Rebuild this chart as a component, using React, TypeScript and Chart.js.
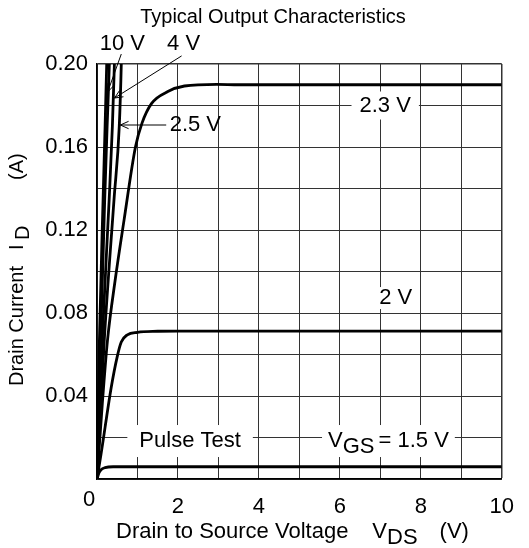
import React, { useEffect, useRef } from 'react';
import { Chart, registerables } from 'chart.js';

Chart.register(...registerables);

// ---------- data ----------
const xTickValues = [0, 2, 4, 6, 8, 10];
const yTickValues = [0.04, 0.08, 0.12, 0.16, 0.2];

const vds10V = [0, 0.06, 0.15, 0.2, 0.24, 0.27];
const id10V = [0, 0.067, 0.1345, 0.17, 0.2, 0.22];

const vdsHigh = [0, 0.09, 0.19, 0.25, 0.305, 0.33];
const idHigh = [0, 0.067, 0.1345, 0.17, 0.2, 0.22];

const vds4V = [0, 0.13, 0.3, 0.38, 0.43, 0.46];
const id4V = [0, 0.067, 0.1345, 0.17, 0.2, 0.22];

const vds25V = [0, 0.18, 0.42, 0.55, 0.6, 0.62];
const id25V = [0, 0.067, 0.1345, 0.17, 0.2, 0.22];

const vds23V = [0, 0.13, 0.26, 0.45, 0.67, 0.95, 1.11, 1.35, 1.75, 2.16, 2.96, 3.5, 10];
const id23V = [0, 0.036, 0.067, 0.096, 0.125, 0.16, 0.1714, 0.181, 0.1867, 0.1894, 0.1902, 0.19, 0.19];

const vds2V = [0, 0.1, 0.2, 0.35, 0.5, 0.6, 0.75, 1.0, 1.5, 2, 10];
const id2V = [0, 0.012, 0.025, 0.044, 0.059, 0.066, 0.0695, 0.0707, 0.0712, 0.0713, 0.0713];

const vds15V = [0, 0.05, 0.1, 0.2, 0.4, 10];
const id15V = [0, 0.003, 0.0045, 0.0055, 0.0059, 0.0059];

const titleText = 'Typical Output Characteristics';
const xTitleMain = 'Drain to Source Voltage';
const yTitleMain = 'Drain Current';
const label10V = '10 V';
const label4V = '4 V';
const label25V = '2.5 V';
const label23V = '2.3 V';
const label2V = '2 V';
const labelPulse = 'Pulse Test';
const labelVgs = '= 1.5 V';

// ---------- helpers ----------
const FAMILY = "'Liberation Sans', Arial, Helvetica, sans-serif";
const FS = 22;
const FONT = `${FS}px ${FAMILY}`;
const TITLE_FONT = `20px ${FAMILY}`;
const YTITLE_FONT = `20px ${FAMILY}`;
const SUB = 6;

type Part = { t: string; sub?: boolean; gap?: number };

function partsWidth(ctx: CanvasRenderingContext2D, parts: Part[]) {
  let w = 0;
  for (const p of parts) {
    w += p.gap ?? 0;
    if (p.t) w += ctx.measureText(p.t).width;
  }
  return w;
}

function drawParts(ctx: CanvasRenderingContext2D, x: number, y: number, parts: Part[]) {
  let cx = x;
  for (const p of parts) {
    cx += p.gap ?? 0;
    if (p.t) {
      ctx.fillText(p.t, cx, y + (p.sub ? SUB : 0));
      cx += ctx.measureText(p.t).width;
    }
  }
}

function arrow(ctx: CanvasRenderingContext2D, x1: number, y1: number, x2: number, y2: number) {
  ctx.beginPath();
  ctx.moveTo(x1, y1);
  ctx.lineTo(x2, y2);
  const a = Math.atan2(y1 - y2, x1 - x2);
  const L = 9;
  const s = 0.42;
  ctx.moveTo(x2 + L * Math.cos(a + s), y2 + L * Math.sin(a + s));
  ctx.lineTo(x2, y2);
  ctx.lineTo(x2 + L * Math.cos(a - s), y2 + L * Math.sin(a - s));
  ctx.stroke();
}

const boxedLabels: { parts: Part[]; x: number; y: number; padX: number; h: number }[] = [
  { parts: [{ t: label23V }], x: 7.12, y: 0.18, padX: 8, h: 28 },
  { parts: [{ t: label2V }], x: 7.38, y: 0.0872, padX: 3, h: 22 },
  { parts: [{ t: labelPulse }], x: 2.3, y: 0.0183, padX: 12, h: 32 },
  { parts: [{ t: 'V' }, { t: 'GS', sub: true }, { t: labelVgs, gap: 4 }], x: 7.2, y: 0.0183, padX: 6, h: 32 },
];

const overlay = {
  id: 'overlay',
  beforeDatasetsDraw(chart: any) {
    const ctx: CanvasRenderingContext2D = chart.ctx;
    const xs = chart.scales.x;
    const ys = chart.scales.y;
    ctx.save();
    ctx.font = FONT;
    ctx.fillStyle = '#ffffff';
    for (const b of boxedLabels) {
      const w = partsWidth(ctx, b.parts);
      const cx = xs.getPixelForValue(b.x);
      const cy = ys.getPixelForValue(b.y);
      ctx.fillRect(cx - w / 2 - b.padX, cy - b.h / 2, w + 2 * b.padX, b.h);
    }
    ctx.restore();
  },
  afterDraw(chart: any) {
    const ctx: CanvasRenderingContext2D = chart.ctx;
    const xs = chart.scales.x;
    const ys = chart.scales.y;
    const px = (v: number) => xs.getPixelForValue(v);
    const py = (v: number) => ys.getPixelForValue(v);
    ctx.save();
    ctx.font = FONT;
    ctx.fillStyle = '#000';
    ctx.strokeStyle = '#000';
    ctx.textBaseline = 'middle';

    for (const b of boxedLabels) {
      const w = partsWidth(ctx, b.parts);
      drawParts(ctx, px(b.x) - w / 2, py(b.y), b.parts);
    }

    ctx.textAlign = 'center';
    ctx.fillText(label10V, px(0.625), py(0.2096));
    ctx.fillText(label4V, px(2.14), py(0.2096));
    ctx.fillText(label25V, px(2.43), py(0.1706));
    ctx.lineWidth = 1;
    arrow(ctx, px(0.6), py(0.2048), px(0.264), py(0.1865));
    arrow(ctx, px(2.09), py(0.2039), px(0.433), py(0.1836));
    arrow(ctx, px(1.71), py(0.1706), px(0.577), py(0.1706));

    ctx.fillText('0', 89, 500);

    ctx.font = TITLE_FONT;
    ctx.fillText(titleText, 273, 17);
    ctx.font = FONT;

    ctx.textAlign = 'left';
    drawParts(ctx, 116, 532, [
      { t: xTitleMain },
      { t: 'V', gap: 24 },
      { t: 'DS', sub: true },
      { t: '(V)', gap: 22 },
    ]);

    ctx.font = YTITLE_FONT;
    ctx.translate(17, 0);
    ctx.rotate(-Math.PI / 2);
    ctx.fillText(yTitleMain, -386, 0);
    ctx.fillText('I', -250, 0);
    ctx.fillText('D', -240, SUB);
    ctx.fillText('(A)', -180, 0);
    ctx.restore();
  },
};

const makeData = (xs: number[], ys: number[]) => xs.map((x, i) => ({ x, y: ys[i] }));

export default function App() {
  const ref = useRef<HTMLCanvasElement | null>(null);
  useEffect(() => {
    document.body.style.margin = '0';
    const canvas = ref.current!;
    const series = [
      makeData(vds10V, id10V),
      makeData(vdsHigh, idHigh),
      makeData(vds4V, id4V),
      makeData(vds25V, id25V),
      makeData(vds23V, id23V),
      makeData(vds2V, id2V),
      makeData(vds15V, id15V),
    ];
    const chart = new Chart(canvas, {
      type: 'line',
      data: {
        datasets: series.map((d) => ({
          data: d,
          borderColor: '#000',
          borderWidth: 2.8,
          pointRadius: 0,
          fill: false,
          cubicInterpolationMode: 'monotone' as const,
        })),
      },
      options: {
        responsive: false,
        animation: false,
        devicePixelRatio: 1,
        layout: { padding: { left: 0, top: 64, right: 16, bottom: 0 } },
        plugins: { legend: { display: false }, title: { display: false }, tooltip: { enabled: false } },
        scales: {
          x: {
            type: 'linear',
            min: 0,
            max: 10,
            afterFit: (s: any) => { s.height = 69; },
            afterBuildTicks: (s: any) => {
              s.ticks = Array.from({ length: 11 }, (_, i) => ({ value: i }));
            },
            ticks: {
              autoSkip: false,
              maxRotation: 0,
              padding: 15,
              color: '#000',
              font: { family: FAMILY, size: FS },
              callback: (v: any) => {
                const n = Number(v);
                return xTickValues.includes(n) && n !== 0 ? String(n) : '';
              },
            },
            grid: {
              color: '#333',
              lineWidth: (c: any) => (c.tick && c.tick.value === 10 ? 1.5 : 1),
              drawTicks: false,
            },
            border: { color: '#000', width: 1.5 },
          },
          y: {
            type: 'linear',
            min: 0,
            max: 0.2,
            afterFit: (s: any) => { s.width = 97; },
            afterBuildTicks: (s: any) => {
              s.ticks = Array.from({ length: 11 }, (_, i) => ({ value: i * 0.02 }));
            },
            ticks: {
              autoSkip: false,
              padding: 9,
              color: '#000',
              font: { family: FAMILY, size: FS },
              callback: (v: any) => {
                const n = Math.round(Number(v) * 100) / 100;
                return yTickValues.some((t) => Math.abs(t - n) < 1e-9) ? n.toFixed(2) : '';
              },
            },
            grid: {
              color: '#333',
              lineWidth: (c: any) => (c.tick && Math.abs(c.tick.value - 0.2) < 1e-9 ? 1.5 : 1),
              drawTicks: false,
            },
            border: { color: '#000', width: 1.5 },
          },
        },
      },
      plugins: [overlay],
    });
    return () => chart.destroy();
  }, []);
  return <canvas ref={ref} width={529} height={548} style={{ display: 'block', width: 529, height: 548 }} />;
}
